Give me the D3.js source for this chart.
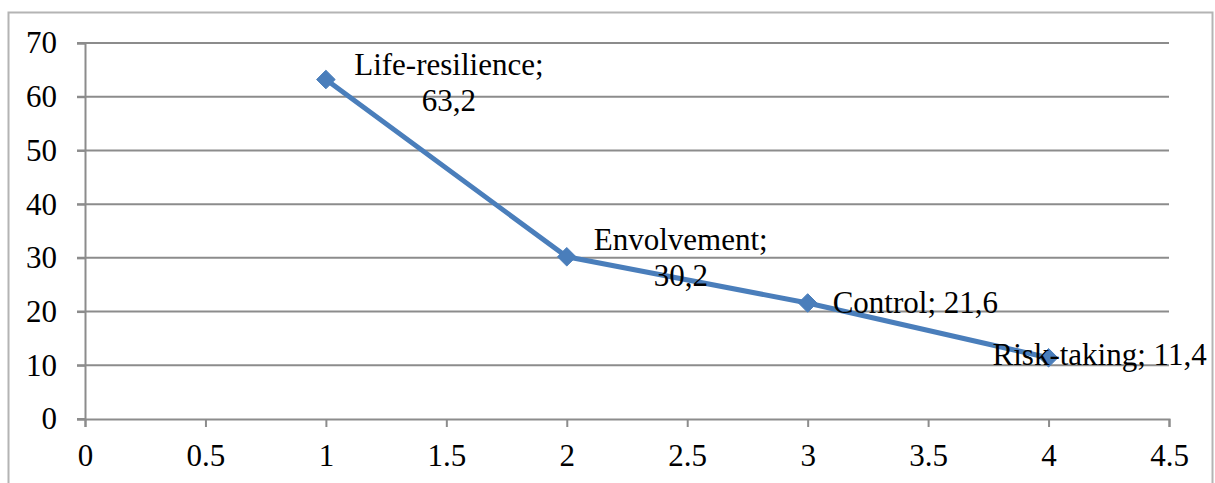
<!DOCTYPE html>
<html>
<head>
<meta charset="utf-8">
<script src="https://cdn.jsdelivr.net/npm/d3@7"></script>
<style>
  body { margin: 0; background: #fff; }
</style>
</head>
<body>
<div id="chart"></div>
<script>
// data
var xValues = [1, 2, 3, 4];
var yValues = [63.2, 30.2, 21.6, 11.4];
var names = ["Life-resilience", "Envolvement", "Control", "Risk-taking"];
var valueText = ["63,2", "30,2", "21,6", "11,4"];
var xTicks = [0, 0.5, 1, 1.5, 2, 2.5, 3, 3.5, 4, 4.5];
var yTicks = [0, 10, 20, 30, 40, 50, 60, 70];

var width = 1215, height = 483;
var plotLeft = 85, plotRight = 1169, plotTop = 43, plotBottom = 419;
var serif = "'Times New Roman', 'Liberation Serif', serif";
var fontSize = 31;

var svg = d3.select("#chart")
    .append("svg")
    .attr("width", width)
    .attr("height", height);

// outer frame
svg.append("rect")
    .attr("x", 8.5).attr("y", 12.5)
    .attr("width", 1204).attr("height", 500)
    .attr("fill", "none")
    .attr("stroke", "#b4b4b4")
    .attr("stroke-width", 2);

var x = d3.scaleLinear().domain([0, 4.5]).range([plotLeft, plotRight]);
var y = d3.scaleLinear().domain([0, 70]).range([plotBottom, plotTop]);

// horizontal gridlines
svg.append("g")
    .selectAll("line")
    .data(yTicks.filter(function (d) { return d > 0; }))
    .join("line")
    .attr("x1", plotLeft - 8).attr("x2", plotRight)
    .attr("y1", function (d) { return y(d); })
    .attr("y2", function (d) { return y(d); })
    .attr("stroke", "#8c8c8c")
    .attr("stroke-width", 2);

// y axis
var yAxis = svg.append("g")
    .attr("transform", "translate(" + plotLeft + ",0)")
    .call(d3.axisLeft(y).tickValues(yTicks).tickSize(8).tickPadding(20).tickFormat(d3.format("d")));

// x axis
var xAxis = svg.append("g")
    .attr("transform", "translate(0," + plotBottom + ")")
    .call(d3.axisBottom(x).tickValues(xTicks).tickSize(8).tickPadding(17)
        .tickFormat(function (d) { return String(d); }));

[yAxis, xAxis].forEach(function (g) {
    g.attr("font-family", serif).attr("font-size", fontSize);
    g.select(".domain").attr("stroke", "#8c8c8c").attr("stroke-width", 2);
    g.selectAll(".tick line").attr("stroke", "#8c8c8c").attr("stroke-width", 2);
    g.selectAll("text").attr("fill", "#000");
});
// extend x axis line to the left like the reference
svg.append("line")
    .attr("x1", plotLeft - 8).attr("x2", plotLeft)
    .attr("y1", plotBottom).attr("y2", plotBottom)
    .attr("stroke", "#8c8c8c").attr("stroke-width", 2);

var pts = xValues.map(function (d, i) { return [d, yValues[i]]; });

svg.append("path")
    .datum(pts)
    .attr("fill", "none")
    .attr("stroke", "#4a7ebb")
    .attr("stroke-width", 5)
    .attr("stroke-linejoin", "round")
    .attr("d", d3.line()
        .x(function (d) { return x(d[0]); })
        .y(function (d) { return y(d[1]); }));

svg.append("g")
    .selectAll("path")
    .data(pts)
    .join("path")
    .attr("transform", function (d) { return "translate(" + x(d[0]) + "," + y(d[1]) + ")"; })
    .attr("d", d3.symbol().type(d3.symbolDiamond2).size(220))
    .attr("fill", "#4a7ebb")
    .attr("stroke", "#4a7ebb")
    .attr("stroke-width", 1);

// data labels
var lab = svg.append("g")
    .attr("font-family", serif)
    .attr("font-size", fontSize)
    .attr("fill", "#000");
// two-line labels for the first two points: [centre dx, baseline dy]
var twoLine = [[123, -5], [114, -7]];
twoLine.forEach(function (o, i) {
    var px = x(xValues[i]) + o[0], py = y(yValues[i]) + o[1];
    var t = lab.append("text")
        .attr("text-anchor", "middle")
        .attr("y", py);
    t.append("tspan").attr("x", px).attr("dy", 0).text(names[i] + ";");
    t.append("tspan").attr("x", px).attr("dy", 36).text(valueText[i]);
});
// one-line labels for the last two points
lab.append("text")
    .attr("x", x(xValues[2]) + 25)
    .attr("y", y(yValues[2]) + 10)
    .text(names[2] + "; " + valueText[2]);
lab.append("text")
    .attr("x", x(xValues[3]) - 56)
    .attr("y", y(yValues[3]) + 7)
    .text(names[3] + "; " + valueText[3]);
</script>
</body>
</html>
